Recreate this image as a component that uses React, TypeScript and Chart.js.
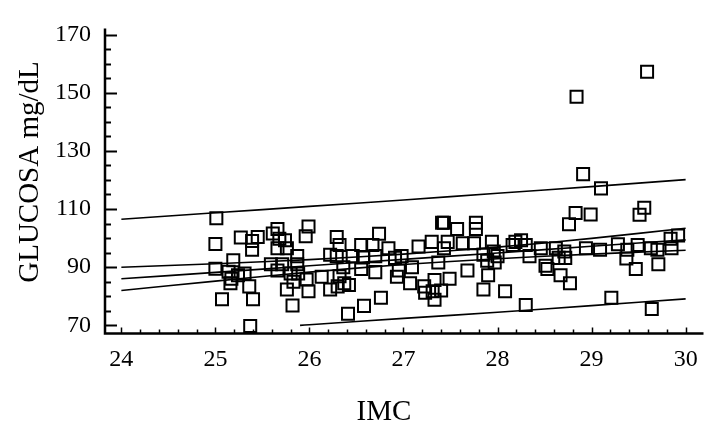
import React, { useEffect, useRef } from 'react';
import { Chart, registerables } from 'chart.js';

Chart.register(...registerables);

// Scatter data: IMC (x) vs GLUCOSA mg/dL (y)
const IMC = [
  25.01, 25.0, 25.0, 25.07, 25.14, 25.17, 25.16, 25.19, 25.24, 25.27, 25.31, 25.36, 25.37, 25.39, 25.39, 25.4, 25.45,
  25.59, 25.61, 25.66, 25.68, 25.66, 25.71, 25.74, 25.76, 25.8, 25.82, 25.83, 25.87, 25.88, 25.96, 25.99, 25.97, 25.99,
  25.76, 25.87, 25.66,
  26.13, 26.22, 26.22, 26.29, 26.32, 26.29, 26.36, 26.3, 26.37, 26.42, 26.41, 26.46, 26.55, 26.55, 26.57, 26.58, 26.67,
  26.7, 26.7, 26.74, 26.76, 26.84, 26.91, 26.93, 26.95, 26.32,
  27.09, 27.07, 27.16, 27.3, 27.41, 27.33, 27.23, 27.33, 27.31, 27.22, 26.98, 27.37, 27.4,
  27.43, 27.57, 27.77, 27.77, 27.47, 27.63, 27.75, 27.94, 27.43, 27.85, 28.0, 27.97, 27.89, 27.49, 27.68, 27.9, 27.85,
  27.96,
  28.19, 28.25, 28.3, 28.16, 28.34, 28.46, 28.62, 28.51, 28.65, 28.72, 28.53, 28.67, 28.77, 28.76, 28.83, 28.99, 28.08,
  28.3, 28.71, 28.94,
  29.09, 28.84, 29.59, 28.91, 29.1, 29.51, 29.56, 29.28, 29.49, 29.37, 29.47, 29.71, 29.63, 29.7, 29.84, 29.92, 29.85,
  29.21, 29.64, 29.38,
];
const GLUCOSA = [
  106.8, 98.0, 89.5, 79.0, 88.4, 86.0, 84.5, 92.4, 87.2, 100.2, 87.8, 83.4, 69.8, 99.0, 96.0, 79.0, 100.4,
  91.0, 101.6, 103.1, 99.8, 96.5, 91.0, 99.3, 96.5, 87.8, 76.8, 85.0, 93.8, 87.8, 100.6, 104.0, 85.8, 81.7,
  82.3, 91.0, 88.9,
  86.7, 82.3, 94.3, 100.4, 97.6, 93.8, 90.0, 83.4, 84.5, 83.9, 74.0, 93.8, 97.6, 89.4, 93.3, 76.7, 97.6,
  88.3, 93.8, 101.5, 79.5, 96.5, 93.2, 86.7, 88.9, 86.9,
  90.0, 84.5, 97.1, 98.7, 105.3, 85.6, 81.2, 78.8, 81.7, 83.4, 93.8, 91.6, 82.0,
  105.3, 103.1, 105.3, 103.1, 98.7, 98.2, 98.2, 98.7, 96.5, 94.3, 93.8, 91.6, 92.2, 86.0, 88.9, 87.2, 82.3,
  95.4,
  98.7, 99.3, 97.6, 97.6, 93.8, 96.5, 96.5, 90.5, 93.2, 93.2, 89.4, 87.2, 84.5, 104.8, 108.6, 108.1, 81.7,
  77.0, 95.4, 96.5,
  96.0, 148.6, 157.2, 122.0, 117.1, 108.0, 110.4, 97.9, 97.6, 93.0, 89.4, 91.0, 96.5, 96.0, 99.8, 100.9, 96.5,
  79.5, 75.6, 96.0,
];

// Fitted line and bands
const LINE_X = [24, 25, 26, 27, 28, 29, 30];
const FIT = [86.0, 88.2, 90.5, 92.7, 94.9, 97.2, 99.4];
const CONF_UPPER = [90.0, 91.2, 92.6, 94.5, 96.9, 99.9, 103.4];
const CONF_LOWER = [82.0, 85.2, 88.3, 90.9, 92.9, 94.5, 95.8];
const PRED_UPPER = [106.5, 108.7, 110.9, 113.1, 115.4, 117.7, 120.1];
const PRED_LOWER_X = [25.9, 26, 27, 28, 29, 30];
const PRED_LOWER = [70.0, 70.2, 72.4, 74.5, 76.8, 79.1];

const X_TICKS = [24, 25, 26, 27, 28, 29, 30];
const Y_TICKS = [70, 90, 110, 130, 150, 170];
const X_TITLE = 'IMC';
const Y_TITLE = 'GLUCOSA mg/dL';

const FONT = 'Liberation Serif';

const axesPlugin = {
  id: 'axesPlugin',
  afterDatasetsDraw(chart: any) {
    const { ctx, chartArea, scales } = chart;
    const { left, right, top, bottom } = chartArea;
    const x = scales.x;
    const y = scales.y;
    ctx.save();
    ctx.strokeStyle = '#000';
    ctx.lineWidth = 2.5;
    ctx.beginPath();
    ctx.moveTo(left, top);
    ctx.lineTo(left, bottom);
    ctx.lineTo(right, bottom);
    ctx.stroke();

    ctx.lineWidth = 2;
    const yStep = (Y_TICKS[1] - Y_TICKS[0]) / 4;
    for (let v = Y_TICKS[0]; v <= Y_TICKS[Y_TICKS.length - 1] + 1e-9; v += yStep) {
      const py = Math.round(y.getPixelForValue(v)) + 0.5;
      const major = Y_TICKS.some((t) => Math.abs(t - v) < 1e-6);
      ctx.beginPath();
      ctx.moveTo(left, py);
      ctx.lineTo(left + (major ? 12 : 6), py);
      ctx.stroke();
    }
    ctx.lineWidth = 1.5;
    const xStep = (X_TICKS[1] - X_TICKS[0]) / 5;
    for (let v = X_TICKS[0]; v <= x.max; v += xStep) {
      const px = Math.round(x.getPixelForValue(v)) + 0.5;
      const major = X_TICKS.some((t) => Math.abs(t - v) < 1e-6);
      ctx.beginPath();
      ctx.moveTo(px, bottom);
      ctx.lineTo(px, bottom - (major ? 6 : 4));
      ctx.stroke();
    }

    ctx.fillStyle = '#000';
    ctx.font = `29px "${FONT}"`;
    ctx.textAlign = 'center';
    ctx.textBaseline = 'alphabetic';
    ctx.fillText(X_TITLE, 384, 420);

    ctx.translate(38, 172);
    ctx.rotate(-Math.PI / 2);
    ctx.fillText(Y_TITLE, 0, 0);
    ctx.restore();
  },
};

export default function App() {
  const canvasRef = useRef<HTMLCanvasElement | null>(null);

  useEffect(() => {
    if (!canvasRef.current) return;
    const points = IMC.map((v, i) => ({ x: v, y: GLUCOSA[i] }));
    const mkLine = (xs: number[], ys: number[]) => ({
      type: 'scatter' as const,
      data: xs.map((v, i) => ({ x: v, y: ys[i] })),
      showLine: true,
      borderColor: '#000',
      borderWidth: 1.6,
      pointRadius: 0,
      tension: 0.3,
      fill: false,
    });
    const chart = new Chart(canvasRef.current, {
      type: 'scatter',
      data: {
        datasets: [
          mkLine(LINE_X, PRED_UPPER),
          mkLine(LINE_X, CONF_UPPER),
          mkLine(LINE_X, FIT),
          mkLine(LINE_X, CONF_LOWER),
          mkLine(PRED_LOWER_X, PRED_LOWER),
          {
            data: points,
            pointStyle: 'rect',
            pointRadius: 8.5,
            pointBorderWidth: 2,
            pointBorderColor: '#000',
            pointBackgroundColor: 'rgba(0,0,0,0)',
            borderColor: '#000',
            backgroundColor: 'rgba(0,0,0,0)',
            showLine: false,
          } as any,
        ],
      },
      options: {
        responsive: false,
        animation: false,
        devicePixelRatio: 1,
        layout: { padding: { top: 13, left: 0, right: 0, bottom: 0 } },
        plugins: {
          legend: { display: false },
          tooltip: { enabled: false },
        },
        scales: {
          x: {
            type: 'linear',
            min: 23.826,
            max: 30.19,
            afterBuildTicks: (s: any) => {
              s.ticks = X_TICKS.map((v) => ({ value: v }));
            },
            afterFit: (s: any) => {
              s.height = 89.5;
            },
            grid: { display: false, drawTicks: false },
            border: { display: false },
            ticks: {
              padding: 12,
              color: '#000',
              maxRotation: 0,
              autoSkip: false,
              font: { family: FONT, size: 24 },
            },
          },
          y: {
            type: 'linear',
            min: 67.2,
            max: 172.1,
            afterBuildTicks: (s: any) => {
              s.ticks = Y_TICKS.map((v) => ({ value: v }));
            },
            afterFit: (s: any) => {
              s.width = 105;
            },
            grid: { display: false, drawTicks: false },
            border: { display: false },
            ticks: {
              padding: 14,
              color: '#000',
              autoSkip: false,
              font: { family: FONT, size: 24 },
            },
          },
        },
      } as any,
      plugins: [axesPlugin],
    });
    return () => chart.destroy();
  }, []);

  return (
    <div style={{ position: 'absolute', left: 0, top: 0, width: 714, height: 423, background: '#fff' }}>
      <canvas ref={canvasRef} width={714} height={423} style={{ display: 'block' }} />
    </div>
  );
}
